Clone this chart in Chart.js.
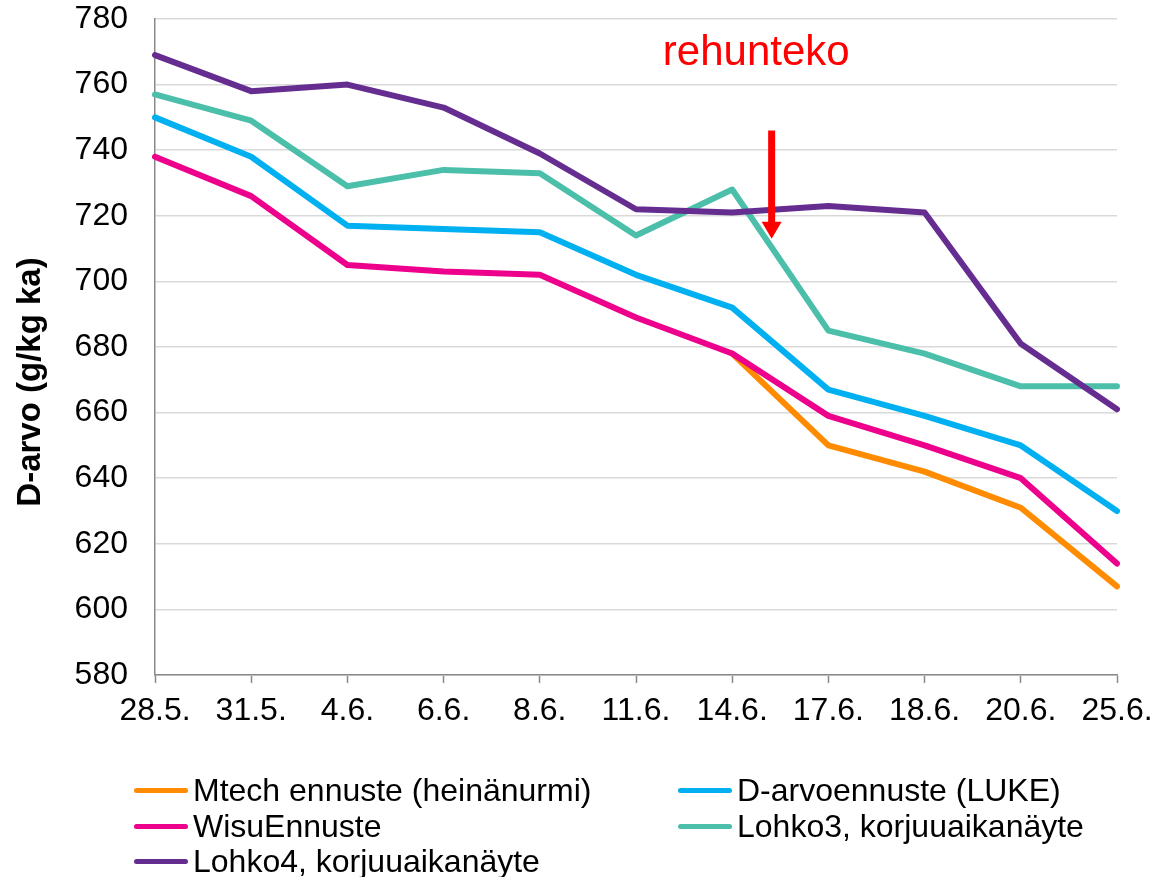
<!DOCTYPE html>
<html>
<head>
<meta charset="utf-8">
<title>D-arvo</title>
<script src="https://cdn.jsdelivr.net/npm/chart.js@4/dist/chart.umd.min.js"></script>
<style>
  html, body { margin: 0; padding: 0; background: #fff; }
  #wrap { position: relative; width: 1155px; height: 877px; font-family: "Liberation Sans", Arial, sans-serif; }
  #legend { position: absolute; left: 0; top: 0; width: 1155px; height: 877px; pointer-events: none; }
  .item { position: absolute; display: flex; align-items: center; height: 36px; font-size: 32px; color: #000; white-space: nowrap; }
  .swatch { display: inline-block; width: 54px; height: 5px; border-radius: 3px; margin-right: 5px; }
</style>
</head>
<body>
<div id="wrap">
  <canvas id="chart" width="1155" height="877"></canvas>
  <div id="legend"></div>
</div>
<script>
// Data
const dates = ["28.5.", "31.5.", "4.6.", "6.6.", "8.6.", "11.6.", "14.6.", "17.6.", "18.6.", "20.6.", "25.6."]
const mtech = [null, null, null, null, null, null, 678, 650, 642, 631, 607]
const dArvoLuke = [750, 738, 717, 716, 715, 702, 692, 667, 659, 650, 630]
const wisu = [738, 726, 705, 703, 702, 689, 678, 659, 650, 640, 614]
const lohko3 = [757, 749, 729, 734, 733, 714, 728, 685, 678, 668, 668]
const lohko4 = [769, 758, 760, 753, 739, 722, 721, 723, 721, 681, 661]
const yTicks = [580, 600, 620, 640, 660, 680, 700, 720, 740, 760, 780]

// "rehunteko" note, in data units (category index, value)
const noteText = "rehunteko"
const noteAt = { x: 6.25, y: 766 }
const arrowAt = { x: 6.41, from: 746, to: 713 }

const font = "'Liberation Sans', Arial, sans-serif"

const series = [
  { label: "Mtech ennuste (heinänurmi)", data: mtech, color: "#ff8c00", order: 4 },
  { label: "D-arvoennuste (LUKE)", data: dArvoLuke, color: "#00b0f0", order: 3 },
  { label: "WisuEnnuste", data: wisu, color: "#ec008c", order: 2 },
  { label: "Lohko3, korjuuaikanäyte", data: lohko3, color: "#4cbfaa", order: 1 },
  { label: "Lohko4, korjuuaikanäyte", data: lohko4, color: "#662d91", order: 0 },
]

// Arrow + note + rotated axis title
const notePlugin = {
  id: "note",
  afterDatasetsDraw(chart) {
    const { ctx, scales } = chart
    const x = scales.x.getPixelForValue(arrowAt.x)
    const y1 = scales.y.getPixelForValue(arrowAt.from)
    const y2 = scales.y.getPixelForValue(arrowAt.to)
    ctx.save()
    ctx.strokeStyle = "#ff0000"
    ctx.fillStyle = "#ff0000"
    ctx.lineWidth = 7
    ctx.beginPath()
    ctx.moveTo(x, y1)
    ctx.lineTo(x, y2 - 15)
    ctx.stroke()
    ctx.beginPath()
    ctx.moveTo(x - 10, y2 - 17)
    ctx.lineTo(x + 10, y2 - 17)
    ctx.lineTo(x, y2)
    ctx.closePath()
    ctx.fill()

    ctx.font = "42px " + font
    ctx.textAlign = "center"
    ctx.textBaseline = "alphabetic"
    ctx.fillText(noteText, scales.x.getPixelForValue(noteAt.x), scales.y.getPixelForValue(noteAt.y))
    ctx.restore()
  },
  afterDraw(chart) {
    const { ctx } = chart
    ctx.save()
    ctx.translate(31, 382)
    ctx.rotate(-Math.PI / 2)
    ctx.font = "bold 33px " + font
    ctx.fillStyle = "#000"
    ctx.textAlign = "center"
    ctx.textBaseline = "middle"
    ctx.fillText("D-arvo (g/kg ka)", 0, 0)
    ctx.restore()
  },
}

new Chart(document.getElementById("chart"), {
  type: "line",
  data: {
    labels: dates,
    datasets: series.map((s) => ({
      label: s.label,
      data: s.data,
      borderColor: s.color,
      backgroundColor: s.color,
      borderWidth: 6,
      borderCapStyle: "round",
      borderJoinStyle: "round",
      pointRadius: 0,
      tension: 0,
      order: s.order,
      spanGaps: false,
    })),
  },
  options: {
    responsive: false,
    animation: false,
    layout: { padding: { top: 19, right: 38, left: 0, bottom: 0 } },
    plugins: {
      legend: { display: false },
      tooltip: { enabled: false },
    },
    scales: {
      x: {
        offset: false,
        grid: { drawOnChartArea: false, drawTicks: true, tickLength: 8, tickColor: "#898989", tickWidth: 1.5 },
        border: { color: "#898989", width: 1.5 },
        ticks: { color: "#000", font: { family: font, size: 32 }, padding: 9, maxRotation: 0, autoSkip: false },
        afterFit: (scale) => {
          scale.height = 202
          scale.paddingLeft = 0
          scale.paddingRight = 0
        },
      },
      y: {
        min: 580,
        max: 780,
        afterBuildTicks: (scale) => { scale.ticks = yTicks.map((v) => ({ value: v })) },
        grid: { color: "#d9d9d9", lineWidth: 1.5, drawTicks: false },
        border: { color: "#898989", width: 1.5 },
        ticks: { color: "#000", font: { family: font, size: 32 }, padding: 27 },
        afterFit: (scale) => {
          scale.width = 155
          scale.paddingTop = 0
          scale.paddingBottom = 0
        },
      },
    },
  },
  plugins: [notePlugin],
})

// Legend in two columns below the plot
const legend = document.getElementById("legend")
const cols = [134, 678]
const rows = [772, 808, 843]
series.forEach((s, i) => {
  const item = document.createElement("div")
  item.className = "item"
  item.style.left = cols[i % 2] + "px"
  item.style.top = rows[Math.floor(i / 2)] + "px"
  item.innerHTML = `<span class="swatch" style="background:${s.color}"></span>${s.label}`
  legend.appendChild(item)
})
</script>
</body>
</html>
